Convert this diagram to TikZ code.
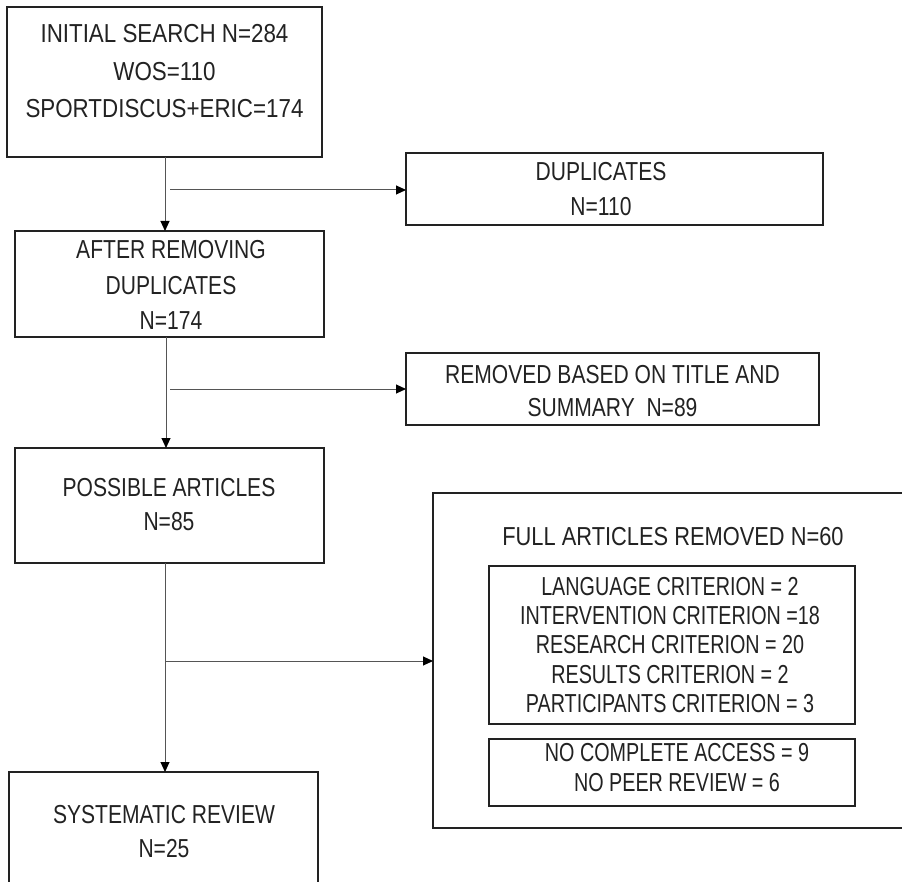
\documentclass[tikz,border=0pt]{standalone}
\usepackage{fontspec}
\setmainfont{Liberation Sans}[FakeStretch=0.81]
\newfontfamily\topfont{Liberation Sans}[FakeStretch=0.86]
\newfontfamily\titlefont{Liberation Sans}[FakeStretch=0.84]
\newfontfamily\narrowfont{Liberation Sans}[FakeStretch=0.76]
\usetikzlibrary{arrows.meta}
\definecolor{ink}{HTML}{222222}
\definecolor{lineg}{HTML}{555555}
\begin{document}
\begin{tikzpicture}[x=1pt,y=-1pt,
  box/.style={draw=ink, line width=1.6pt, inner sep=0pt, outer sep=0pt, anchor=north west},
  conn/.style={draw=lineg, line width=1pt},
  arr/.style={conn, -{Triangle[length=10pt,width=9pt,color=black]}},
  txt/.style={anchor=base, inner sep=0pt, font=\fontsize{26}{30}\selectfont, text=ink},
  toptxt/.style={txt, font=\fontsize{26}{30}\topfont},
  titletxt/.style={txt, font=\fontsize{26}{30}\titlefont},
  nartxt/.style={txt, font=\fontsize{26}{30}\narrowfont}]
\useasboundingbox (0,0) rectangle (902,882);
\fill[white] (0,0) rectangle (902,882);
\clip (0,0) rectangle (902,882);

% boxes
\node[box, minimum width=315pt, minimum height=150pt] (b1) at (7,7) {};
\node[box, minimum width=417pt, minimum height=72pt] (dup) at (406,153) {};
\node[box, minimum width=309pt, minimum height=106pt] (b2) at (15,231) {};
\node[box, minimum width=413pt, minimum height=72pt] (rem) at (406,353) {};
\node[box, minimum width=309pt, minimum height=115pt] (b3) at (15,448) {};
\node[box, minimum width=309pt, minimum height=130pt] (b4) at (9,772) {};
\node[box, minimum width=490pt, minimum height=335pt] (full) at (433,493) {};
\node[box, minimum width=366pt, minimum height=158pt] (in1) at (489,566) {};
\node[box, minimum width=366pt, minimum height=67pt] (in2) at (489,739) {};

% texts
\node[toptxt] (t1a) at (164.5,43) {INITIAL SEARCH N=284};
\node[toptxt] (t1b) at (164.5,81) {WOS=110};
\node[toptxt] (t1c) at (164.5,118) {SPORTDISCUS+ERIC=174};

\node[txt] (tda) at (601,181) {DUPLICATES};
\node[txt] (tdb) at (601,216) {N=110};

\node[txt] (t2a) at (171,259) {AFTER REMOVING};
\node[txt] (t2b) at (171,295) {DUPLICATES};
\node[txt] (t2c) at (171,330) {N=174};

\node[txt] (tra) at (612.5,384) {REMOVED BASED ON TITLE AND};
\node[txt] (trb) at (612.5,417) {SUMMARY~~N=89};

\node[txt] (t3a) at (169,496) {POSSIBLE ARTICLES};
\node[txt] (t3b) at (169,530) {N=85};

\node[titletxt] (tfa) at (673,545) {FULL ARTICLES REMOVED N=60};

\node[nartxt] (ti1) at (670,595) {LANGUAGE CRITERION = 2};
\node[nartxt] (ti2) at (670,624) {INTERVENTION CRITERION =18};
\node[nartxt] (ti3) at (670,653) {RESEARCH CRITERION = 20};
\node[nartxt] (ti4) at (670,683) {RESULTS CRITERION = 2};
\node[nartxt] (ti5) at (670,712) {PARTICIPANTS CRITERION = 3};
\node[nartxt] (tj1) at (677,761) {NO COMPLETE ACCESS = 9};
\node[nartxt] (tj2) at (677,791) {NO PEER REVIEW = 6};

\node[txt] (t4a) at (164,823) {SYSTEMATIC REVIEW};
\node[txt] (t4b) at (164,857) {N=25};

% connectors
\coordinate (c1) at (165,190);
\coordinate (c2) at (166,389);
\coordinate (c3) at (165,661);
\draw[arr] (b1.south -| c1) -- (b2.north -| c1);
\draw[arr] ([xshift=5pt]c1) -- (c1 -| dup.west);
\draw[arr] (b2.south -| c2) -- (b3.north -| c2);
\draw[arr] ([xshift=4pt]c2) -- (c2 -| rem.west);
\draw[arr] (b3.south -| c3) -- (b4.north -| c3);
\draw[arr] (c3) -- (c3 -| full.west);
\end{tikzpicture}
\end{document}
